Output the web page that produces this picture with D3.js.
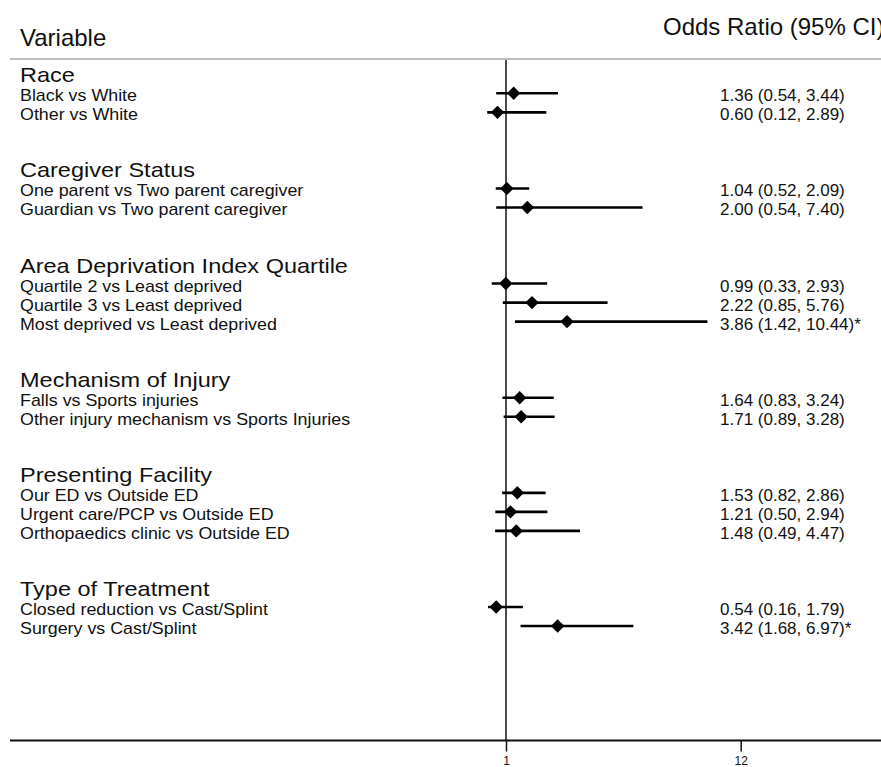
<!DOCTYPE html>
<html lang="en">
<head>
    <meta charset="UTF-8" />
    <title>Forest plot - Odds Ratio</title>
    <script src="https://d3js.org/d3.v7.min.js"></script>
    <style>
        body {
            margin: 0;
            overflow: hidden;
            background: #fff;
            font-family: "Liberation Sans", Arial, Helvetica, sans-serif;
        }
        text {
            fill: #111;
        }
    </style>
</head>
<body>
    <script>
        // data
        const groups = ['Race', 'Caregiver Status', 'Area Deprivation Index Quartile', 'Mechanism of Injury', 'Presenting Facility', 'Type of Treatment'];
        const labels = [
            'Black vs White', 'Other vs White',
            'One parent vs Two parent caregiver', 'Guardian vs Two parent caregiver',
            'Quartile 2 vs Least deprived', 'Quartile 3 vs Least deprived', 'Most deprived vs Least deprived',
            'Falls vs Sports injuries', 'Other injury mechanism vs Sports Injuries',
            'Our ED vs Outside ED', 'Urgent care/PCP vs Outside ED', 'Orthopaedics clinic vs Outside ED',
            'Closed reduction vs Cast/Splint', 'Surgery vs Cast/Splint'
        ];
        const groupOf = [0, 0, 1, 1, 2, 2, 2, 3, 3, 4, 4, 4, 5, 5];
        const oddsRatio = [1.36, 0.60, 1.04, 2.00, 0.99, 2.22, 3.86, 1.64, 1.71, 1.53, 1.21, 1.48, 0.54, 3.42];
        const lower = [0.54, 0.12, 0.52, 0.54, 0.33, 0.85, 1.42, 0.83, 0.89, 0.82, 0.50, 0.49, 0.16, 1.68];
        const upper = [3.44, 2.89, 2.09, 7.40, 2.93, 5.76, 10.44, 3.24, 3.28, 2.86, 2.94, 4.47, 1.79, 6.97];
        const significant = [0, 0, 0, 0, 0, 0, 1, 0, 0, 0, 0, 0, 0, 1];
        const tickValues = [1, 12];

        const width = 881, height = 767;
        const svg = d3.select('body').append('svg').attr('width', width).attr('height', height);

        // row positions: header, items, then two blank rows
        const headerRow = [];
        const itemRow = [];
        let idx = 0;
        groups.forEach((g, gi) => {
            headerRow.push(idx);
            labels.forEach((l, i) => {
                if (groupOf[i] === gi) { idx++; itemRow[i] = idx; }
            });
            idx += 3;
        });
        const lastRow = d3.max(itemRow);

        const y = d3.scaleLinear().domain([0, lastRow]).range([74.3, 626]);
        const x = d3.scaleLinear().domain([1, 12]).range([506, 740.7]);

        // header
        svg.append('text').attr('x', 20).attr('y', 45.5).attr('font-size', 24).text('Variable');
        svg.append('text').attr('x', 663).attr('y', 35).attr('font-size', 24).text('Odds Ratio (95% CI)');
        svg.append('line').attr('x1', 10).attr('x2', width).attr('y1', 59).attr('y2', 59)
            .attr('stroke', '#bdbdbd').attr('stroke-width', 2);

        // group headings (the original type is a bit wider than Arial)
        svg.selectAll('.group').data(groups).enter().append('text')
            .attr('class', 'group')
            .attr('transform', (d, i) => `translate(20,${y(headerRow[i]) + 8}) scale(1.12,1)`)
            .attr('font-size', 21)
            .text((d) => d);

        // row labels
        svg.selectAll('.label').data(labels).enter().append('text')
            .attr('class', 'label')
            .attr('transform', (d, i) => `translate(20,${y(itemRow[i]) + 8}) scale(1.05,1)`)
            .attr('font-size', 17)
            .text((d) => d);

        // OR text
        svg.selectAll('.ortext').data(oddsRatio).enter().append('text')
            .attr('class', 'ortext')
            .attr('x', 720)
            .attr('y', (d, i) => y(itemRow[i]) + 8)
            .attr('font-size', 17)
            .text((d, i) => `${d.toFixed(2)} (${lower[i].toFixed(2)}, ${upper[i].toFixed(2)})` + (significant[i] ? '*' : ''));

        // axis
        const axisY = 740.5;
        svg.append('line').attr('x1', 10).attr('x2', width).attr('y1', axisY).attr('y2', axisY)
            .attr('stroke', '#111').attr('stroke-width', 2);
        const axis = svg.append('g').attr('transform', `translate(0,${axisY})`)
            .call(d3.axisBottom(x).tickValues(tickValues).tickSize(11).tickPadding(5).tickFormat(d3.format('d')));
        axis.select('.domain').remove();
        axis.selectAll('.tick line').attr('stroke', '#111').attr('stroke-width', 1.5);
        axis.selectAll('.tick text').attr('font-size', 12).attr('font-family', '"Liberation Sans", Arial, sans-serif').attr('fill', '#111');

        // reference line at 1
        svg.append('line').attr('x1', x(1)).attr('x2', x(1)).attr('y1', 60).attr('y2', axisY)
            .attr('stroke', '#111').attr('stroke-width', 1.5);

        // CI lines
        svg.selectAll('.ci').data(oddsRatio).enter().append('line')
            .attr('class', 'ci')
            .attr('x1', (d, i) => x(lower[i]))
            .attr('x2', (d, i) => x(upper[i]))
            .attr('y1', (d, i) => y(itemRow[i]))
            .attr('y2', (d, i) => y(itemRow[i]))
            .attr('stroke', '#000')
            .attr('stroke-width', 2.6);

        // diamonds
        const diamond = d3.symbol().type(d3.symbolSquare).size(90);
        svg.selectAll('.pt').data(oddsRatio).enter().append('path')
            .attr('class', 'pt')
            .attr('d', diamond)
            .attr('transform', (d, i) => `translate(${x(d)},${y(itemRow[i])}) rotate(45)`)
            .attr('fill', '#000');
    </script>
</body>
</html>
